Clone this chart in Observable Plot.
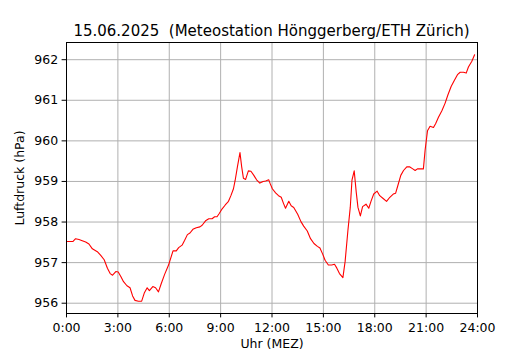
<!DOCTYPE html>
<html>
<head>
<meta charset="utf-8">
<script src="https://cdn.jsdelivr.net/npm/d3@7"></script>
<script src="https://cdn.jsdelivr.net/npm/@observablehq/plot@0.6"></script>
<style>
  html, body { margin: 0; padding: 0; background: white; }
  #wrap { width: 530px; height: 350px; font-family: "DejaVu Sans", sans-serif; }
  #title { box-sizing: border-box; height: 36px; margin-left: 66px; width: 411px; text-align: center;
           font-size: 15px; line-height: 17px; padding-top: 23px; color: #000; white-space: pre; overflow: visible; }
  svg { display: block; }
</style>
</head>
<body>
<div id="wrap">
  <div id="title"></div>
  <div id="chart"></div>
</div>
<script>
const titleText = "15.06.2025  (Meteostation Hönggerberg/ETH Zürich)";
const xLabel = "Uhr (MEZ)";
const yLabel = "Luftdruck (hPa)";
const xTicks = [0, 3, 6, 9, 12, 15, 18, 21, 24];
const xTickLabels = ["0:00", "3:00", "6:00", "9:00", "12:00", "15:00", "18:00", "21:00", "24:00"];
const yTicks = [956, 957, 958, 959, 960, 961, 962];

// time of day in hours
const hours = [
  0.0, 0.37, 0.53, 0.73, 0.92, 1.12, 1.31, 1.51, 1.8, 2.0, 2.2, 2.39, 2.55, 2.69, 2.88, 3.02,
  3.18, 3.33, 3.53, 3.71, 3.86, 4.0, 4.2, 4.39, 4.55, 4.71, 4.84, 5.04, 5.2, 5.37, 5.53, 5.73,
  5.96, 6.22, 6.41, 6.55, 6.75, 6.9, 7.06, 7.21, 7.38, 7.58, 7.79, 7.92, 8.12, 8.31, 8.5, 8.65,
  8.79, 8.92, 9.08, 9.27, 9.46, 9.6, 9.75, 9.85, 9.98, 10.13, 10.23, 10.33, 10.46, 10.62, 10.77,
  10.94, 11.1, 11.29, 11.48, 11.63, 11.81, 11.9, 12.02, 12.21, 12.38, 12.54, 12.67, 12.79, 12.98,
  13.12, 13.27, 13.5, 13.69, 13.85, 14.06, 14.25, 14.45, 14.65, 14.8, 14.96, 15.1, 15.29, 15.49,
  15.65, 15.78, 15.94, 16.14, 16.27, 16.43, 16.57, 16.67, 16.8, 16.92, 17.02, 17.16, 17.29, 17.49,
  17.65, 17.78, 17.94, 18.14, 18.29, 18.49, 18.69, 18.88, 19.08, 19.22, 19.35, 19.52, 19.68, 19.87,
  20.03, 20.22, 20.36, 20.49, 20.69, 20.84, 20.94, 21.08, 21.23, 21.43, 21.56, 21.72, 21.92, 22.11,
  22.27, 22.46, 22.66, 22.83, 22.99, 23.18, 23.34, 23.47, 23.67, 23.83
];
// air pressure in hPa
const pressure = [
  957.52, 957.52, 957.59, 957.57, 957.54, 957.51, 957.46, 957.34, 957.27, 957.18, 957.07, 956.86, 956.73, 956.69, 956.78, 956.77,
  956.65, 956.53, 956.43, 956.38, 956.18, 956.07, 956.05, 956.05, 956.26, 956.38, 956.31, 956.41, 956.38, 956.28, 956.48, 956.71,
  956.94, 957.29, 957.29, 957.37, 957.43, 957.55, 957.69, 957.73, 957.82, 957.86, 957.88, 957.92, 958.03, 958.08, 958.08, 958.13,
  958.13, 958.21, 958.32, 958.42, 958.51, 958.65, 958.82, 959.03, 959.36, 959.71, 959.36, 959.08, 959.05, 959.26, 959.25,
  959.15, 959.04, 958.96, 959.0, 959.01, 959.04, 958.94, 958.82, 958.72, 958.65, 958.61, 958.46, 958.34, 958.51,
  958.4, 958.36, 958.19, 958.01, 957.9, 957.78, 957.59, 957.47, 957.4, 957.36, 957.21, 957.06, 956.94, 956.94,
  956.96, 956.87, 956.73, 956.63, 957.03, 957.78, 958.36, 959.03, 959.26, 958.73, 958.36, 958.15, 958.38, 958.44,
  958.34, 958.51, 958.69, 958.76, 958.65, 958.58, 958.51, 958.61, 958.69, 958.71, 958.9, 959.15, 959.27, 959.36,
  959.36, 959.31, 959.27, 959.31, 959.31, 959.31, 959.77, 960.25, 960.36, 960.33, 960.43, 960.58, 960.74, 960.93,
  961.13, 961.34, 961.5, 961.63, 961.69, 961.69, 961.67, 961.82, 961.96, 962.12
];

document.getElementById("title").textContent = titleText;

const data = hours.map((h, i) => ({h, p: pressure[i]}));
const yMin = d3.min(pressure), yMax = d3.max(pressure);
const pad = (yMax - yMin) * 0.05;

const chart = Plot.plot({
  width: 530,
  height: 314,
  marginTop: 6,
  marginBottom: 37,
  marginLeft: 66,
  marginRight: 53,
  style: {fontFamily: "DejaVu Sans, sans-serif", fontSize: "12.5px", background: "white", color: "black", overflow: "visible"},
  x: {domain: [0, 24]},
  y: {domain: [yMin - pad, yMax + pad]},
  marks: [
    Plot.gridX(xTicks, {stroke: "#b0b0b0", strokeOpacity: 1, strokeWidth: 1}),
    Plot.gridY(yTicks, {stroke: "#b0b0b0", strokeOpacity: 1, strokeWidth: 1}),
    Plot.line(data, {x: "h", y: "p", stroke: "red", strokeWidth: 1.1}),
    Plot.frame({stroke: "black", strokeWidth: 1}),
    Plot.axisX(xTicks, {tickSize: 4.4, tickPadding: 5.5, tickFormat: (d, i) => xTickLabels[i],
      label: xLabel, labelAnchor: "center", labelArrow: "none", labelOffset: 34, fontSize: 12.5}),
    Plot.axisY(yTicks, {tickSize: 4.4, tickPadding: 4, tickFormat: d => String(d),
      label: yLabel, labelAnchor: "center", labelArrow: "none", labelOffset: 51, fontSize: 12.5})
  ]
});
document.getElementById("chart").appendChild(chart);
</script>
</body>
</html>
